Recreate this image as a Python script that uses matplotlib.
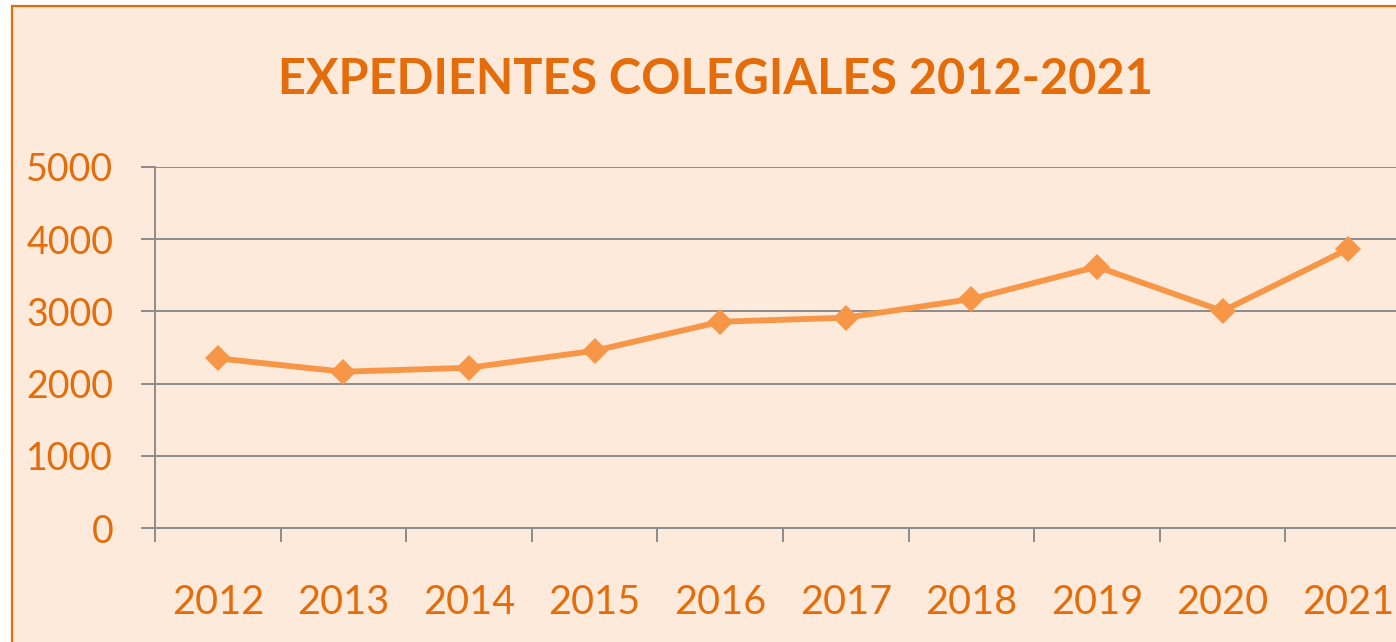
import matplotlib
matplotlib.use("Agg")
import matplotlib.pyplot as plt
from matplotlib.patches import Rectangle

years = ["2012", "2013", "2014", "2015", "2016", "2017", "2018", "2019", "2020", "2021"]
expedientes = [2350, 2165, 2220, 2455, 2856, 2912, 3170, 3617, 3004, 3862]
y_ticks = [0, 1000, 2000, 3000, 4000, 5000]
title = "EXPEDIENTES COLEGIALES 2012-2021"

W, H = 1396, 642
DPI = 100
TXT = "#E46C0A"
LINE = "#F79646"
BG = "#FDEADA"
GRID = "#8C8C8C"
FONT = "Lato"

fig = plt.figure(figsize=(W / DPI, H / DPI), dpi=DPI, facecolor="white")
fig.patches.append(Rectangle((12 / W, -0.1), 1.2, 1.1 - 6 / H,
                             transform=fig.transFigure, facecolor=BG,
                             edgecolor=TXT, linewidth=1.6, zorder=-10))

ax = fig.add_axes([155 / W, 1 - 528.3 / H, 1256 / W, 361.6 / H])
ax.set_zorder(5)
ax.set_facecolor("none")
x = list(range(len(years)))
ax.plot(x, expedientes, color=LINE, linewidth=4.2, marker="D", markersize=13,
        markeredgewidth=0, clip_on=False, zorder=3)

ax.set_xlim(-0.5, len(years) - 0.5)
ax.set_ylim(y_ticks[0], y_ticks[-1])
ax.set_yticks(y_ticks)
ax.set_yticklabels([str(v) for v in y_ticks])
ax.grid(axis="y", color=GRID, linewidth=1.4)
ax.set_axisbelow(True)

ax.set_xticks([i - 0.5 for i in range(len(years) + 1)])
ax.set_xticklabels([])
ax.set_xticks(x, minor=True)
ax.set_xticklabels(years, minor=True)

ax.tick_params(axis="y", length=10, width=1.4, color=GRID, pad=20,
               labelsize=27, labelcolor=TXT)
ax.tick_params(axis="x", which="major", length=10, width=1.4, color=GRID)
ax.tick_params(axis="x", which="minor", length=0, pad=40,
               labelsize=28.5, labelcolor=TXT)
for lab in ax.get_yticklabels() + ax.get_xticklabels(minor=True):
    lab.set_fontfamily(FONT)

for s in ["top", "right"]:
    ax.spines[s].set_visible(False)
for s in ["left", "bottom"]:
    ax.spines[s].set_color(GRID)
    ax.spines[s].set_linewidth(1.4)

fig.text(715 / W, 1 - 79 / H, title, ha="center", va="center",
         fontsize=35, fontweight="bold", color=TXT, fontfamily=FONT)

fig.savefig("out.png", dpi=DPI, facecolor=fig.get_facecolor())
